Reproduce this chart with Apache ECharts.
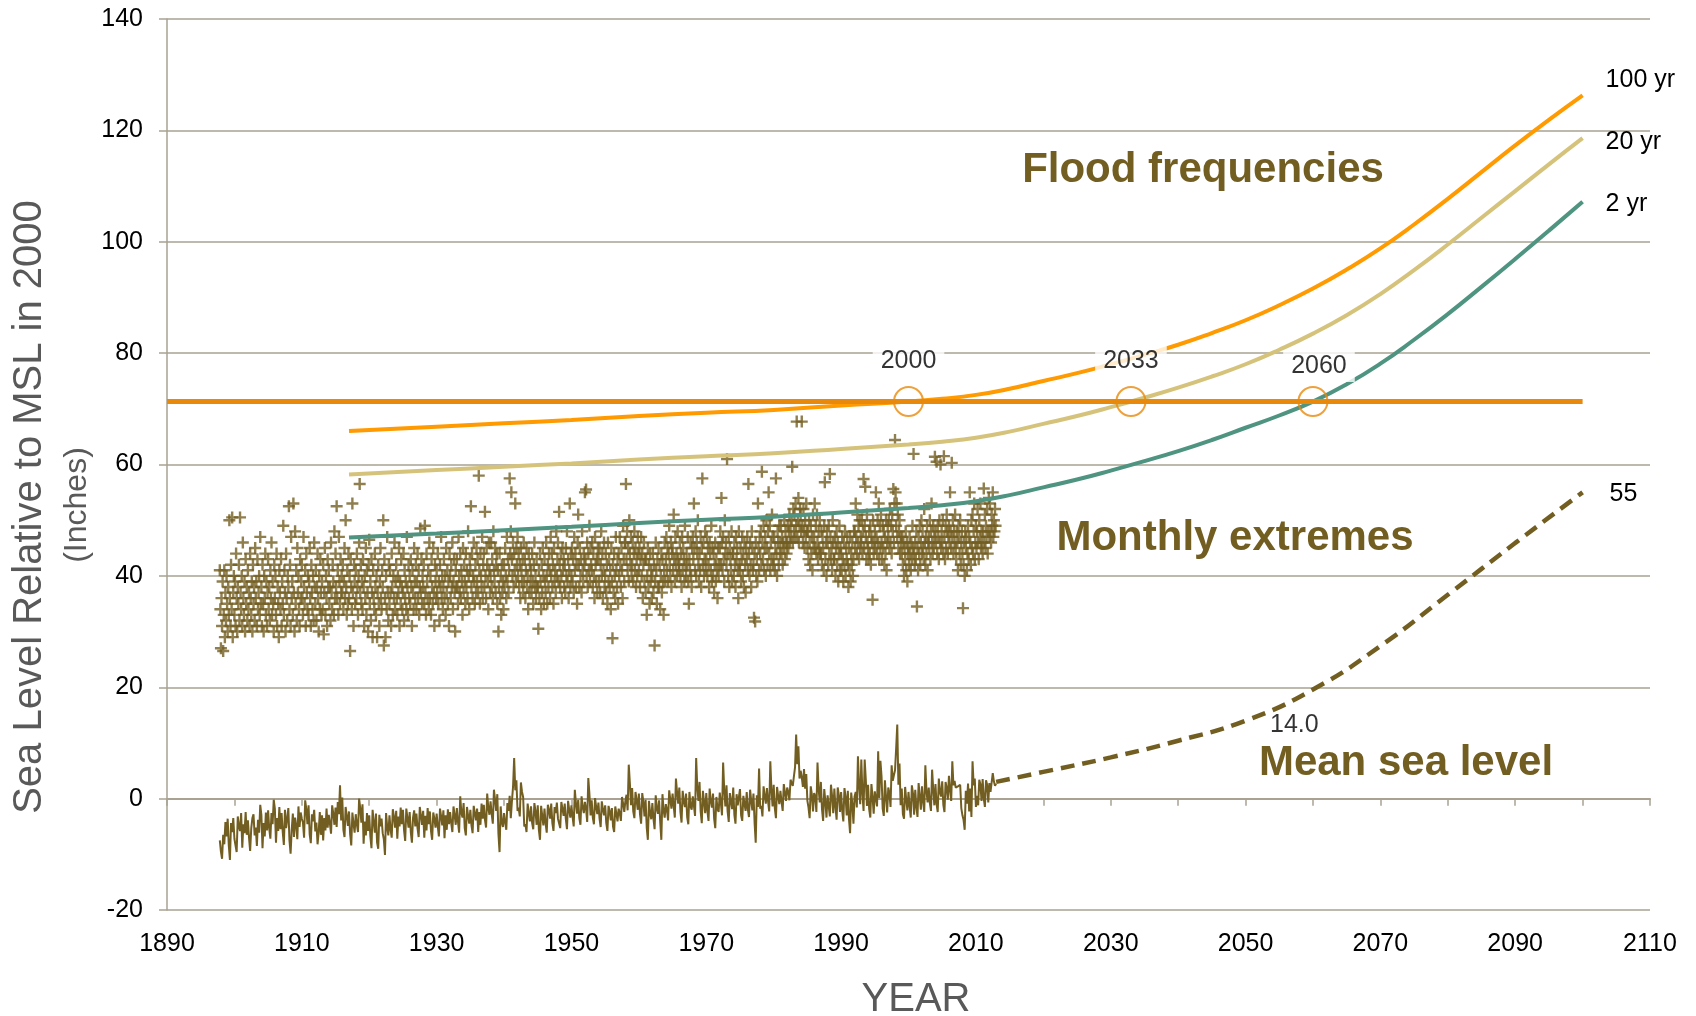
<!DOCTYPE html>
<html>
<head>
<meta charset="utf-8">
<script src="https://cdn.jsdelivr.net/npm/echarts@6/dist/echarts.min.js"></script>
<style>
html,body{margin:0;padding:0;background:#fff;}
#chart{width:1696px;height:1016px;}
</style>
</head>
<body>
<div id="chart"></div>
<script>
// ---------- DATA ----------
const xTickYears = [1890, 1910, 1930, 1950, 1970, 1990, 2010, 2030, 2050, 2070, 2090, 2110];
const yTickValues = [-20, 0, 20, 40, 60, 80, 100, 120, 140];

// Mean sea level (inches), two-month steps, first value Nov 1897
const mslStartYear = 1897 + 10 / 12;
const mslStep = 1 / 6;
const mslValues = [
-7.5,-9.5,
-10.8,-6.5,-8.2,-4.2,-6.8,-3.6,
-8.4,-11.0,-4.4,-6.0,-3.5,-7.2,
-6.9,-9.6,-3.2,-5.0,-5.8,-2.6,
-8.8,-4.6,-6.2,-2.4,-6.5,-3.9,
-7.0,-9.4,-5.3,-3.5,-2.8,-6.6,
-5.2,-8.5,-3.8,-6.1,-1.1,-2.9,
-8.9,-4.4,-6.8,-2.5,-5.7,-2.1,
-5.4,-7.2,-2.6,-4.6,-0.2,-1.8,
-7.9,-3.5,-5.8,-1.5,-5.5,-2.6,
-6.0,-8.3,-2.0,-5.3,-3.6,-1.7,
-7.5,-9.9,-5.6,-2.7,-6.9,-3.4,
-4.9,-7.3,-1.4,-5.1,-2.5,-3.6,
-4.3,-7.0,-0.3,-1.9,-4.6,-1.2,
-6.4,-8.0,-2.8,-4.1,-2.0,-5.9,
-4.3,-8.2,-6.0,-2.4,-6.5,-3.0,
-7.5,-3.5,-5.7,-1.8,-5.2,-2.9,
-4.5,-6.3,-1.2,-2.7,-4.7,-1.6,
-5.1,-0.6,-2.8,2.4,-3.9,0.2,
-5.6,-6.9,-1.5,-3.1,-4.9,-2.3,
-6.4,-8.4,-2.5,-4.5,-6.1,-2.8,
-4.6,-6.0,0.0,-1.7,-4.3,-1.0,
-8.1,-4.1,-6.6,-2.6,-5.8,-3.0,
-6.8,-8.9,-2.0,-4.2,-6.1,-2.7,
-7.9,-9.0,-2.9,-5.0,-3.6,-6.2,
-7.3,-10.1,-2.6,-5.1,-6.6,-3.0,
-5.6,-7.0,-1.9,-3.3,-5.2,-2.2,
-7.2,-3.2,-5.0,-1.6,-4.6,-2.0,
-5.7,-7.6,-1.8,-3.5,-5.2,-2.4,
-6.0,-7.9,-3.4,-2.1,-5.0,-2.7,
-5.3,-6.9,-1.5,-3.0,-4.7,-2.2,
-7.0,-3.1,-5.7,-1.7,-4.6,-2.3,
-5.9,-7.4,-2.5,-3.6,-5.2,-2.7,
-5.0,-6.8,-1.8,-3.2,-4.8,-2.1,
-7.1,-3.0,-5.6,-1.9,-4.6,-2.4,
-4.4,-6.0,-1.4,-2.9,-4.7,-1.7,
-4.2,-6.1,0.4,-2.5,-3.4,-0.8,
-5.3,-6.6,-1.5,-3.1,-4.5,-2.0,
-4.8,-6.2,-1.3,-2.6,-3.9,-1.8,
-6.0,-2.4,-4.7,-0.9,-3.6,-1.1,
-3.8,-5.2,0.9,-1.7,-2.9,-0.5,
-2.8,-4.5,1.6,-0.2,-2.2,0.8,
-6.3,-9.6,-1.4,-4.2,-5.1,-2.6,
-4.3,-5.6,-0.8,-2.2,0.5,-3.5,
-0.5,2.1,7.3,1.5,3.3,-2.2,
-1.6,-3.2,2.9,1.2,0.3,-5.0,
-4.6,-6.0,-0.9,-2.6,-4.1,-1.4,
-4.4,-5.5,-0.8,-2.3,-4.7,-1.2,
-5.6,-7.4,-1.3,-3.1,-4.8,-1.8,
-4.5,-6.1,-1.1,-2.0,-3.6,-0.9,
-4.4,-5.8,-1.5,-2.6,-0.7,-3.6,
-3.9,-5.3,-0.6,-1.8,-3.1,-0.9,
-3.7,-5.5,-0.4,-2.0,-3.4,-1.2,
-3.3,-5.0,1.6,-0.8,-2.7,-0.2,
-3.5,-4.7,0.4,-1.5,-2.6,-0.6,
-1.8,-4.2,3.7,0.8,-3.0,-0.3,
-3.4,-4.6,0.1,-1.5,-2.8,-0.7,
-3.6,-5.1,-0.5,-1.9,-3.0,-1.2,
-4.4,-5.8,-1.3,-2.2,-3.9,-1.7,
-5.0,-6.0,-1.4,-2.7,-4.1,-1.8,
-2.6,-4.0,0.3,-0.9,-2.4,-0.4,
0.7,-2.1,6.1,2.8,-1.2,1.9,
-2.3,-3.5,1.2,-0.3,-2.0,0.9,
-2.8,-4.5,1.0,-0.6,-3.2,-0.2,
-5.2,-7.4,-0.4,-2.6,-3.7,-0.8,
-3.6,-5.5,0.6,-1.8,-2.7,-0.3,
-4.2,-7.4,0.8,-2.0,-3.4,-1.0,
-2.0,-3.9,1.5,-0.2,-1.8,0.9,
-1.3,-3.4,3.6,1.1,-0.9,2.0,
-2.4,-4.3,1.4,-0.5,-1.5,0.9,
-3.3,-4.6,1.2,-1.4,-2.0,0.4,
-1.3,-3.1,7.3,2.1,-0.4,3.0,
-2.3,-4.4,1.4,-0.6,-2.6,1.0,
-2.2,-4.0,1.8,-0.4,-1.6,0.9,
-3.6,-5.3,0.3,-1.9,-2.4,1.1,
-0.8,-3.0,6.5,1.5,-1.4,2.4,
-2.3,-4.2,1.0,-0.5,-1.9,2.0,
-2.9,-4.5,0.8,-1.2,-1.4,1.7,
-3.0,-4.0,0.5,-0.9,-2.2,1.2,
-1.9,-3.3,1.6,-0.4,-2.1,0.9,
-4.3,-7.9,0.6,-1.5,5.4,-1.8,
-1.3,-3.2,2.2,0.5,-0.9,1.9,
-0.5,-2.3,6.7,1.6,-1.4,2.5,
-1.7,-3.5,2.1,0.4,-1.0,1.4,
-0.6,-2.2,2.6,1.1,-0.4,2.0,
1.2,-0.3,3.4,2.8,2.3,4.0,
5.6,11.5,6.2,9.4,3.6,5.0,
3.8,2.1,5.3,1.8,4.4,-0.4,
-1.6,-3.5,2.2,0.7,-2.3,1.0,
0.4,-2.4,6.5,1.8,-0.7,3.0,
-1.9,-4.0,1.7,-0.5,-3.4,0.6,
-1.4,-3.2,2.5,0.4,-2.6,1.8,
-1.5,-3.8,2.0,0.6,-2.4,1.2,
-2.2,-4.1,1.9,0.3,-3.0,1.4,
-3.6,-6.2,1.1,-1.0,-4.5,0.4,
1.2,-1.6,7.6,2.3,-1.0,7.0,
0.9,-2.2,7.0,3.4,-1.3,2.5,
-1.9,-3.4,2.6,0.3,-2.7,1.3,
1.6,-1.4,8.5,0.1,6.8,4.0,
-1.8,-3.1,3.3,0.3,-2.5,2.0,
1.0,-1.5,6.0,3.2,4.2,5.1,
9.0,13.3,2.5,6.3,-1.2,1.8,
-2.8,-3.6,2.1,-0.2,-2.1,1.2,
-1.4,-3.4,2.4,0.9,-2.9,1.6,
-1.5,-3.3,2.8,0.4,-2.0,2.2,
-0.5,-2.4,6.0,1.4,-0.7,2.0,
-0.8,-2.2,5.2,1.7,-1.2,2.6,
-1.0,-2.4,3.6,1.2,0.4,3.1,
-1.1,-2.4,3.0,1.9,-0.2,4.1,
1.5,-0.4,6.7,2.4,3.2,2.0,
2.1,2.2,2.4,2.5,-1.7,-3.0,
-3.8,-5.6,1.4,-0.9,2.7,-2.3,
1.8,-3.3,6.7,2.4,3.6,-1.5,
0.5,-1.2,3.4,2.6,-0.4,3.5,
0.0,-1.5,3.3,2.5,-0.7,2.8,
1.2,0.9,4.6,3.1,2.3,2.7
];

// Monthly extreme water levels (inches), first month Nov 1897
const extremesStartYear = 1897 + 10 / 12;
const extremesStep = 1 / 12;
const extremesMonthly = [
41,34,
27,36,31,39,26.5,33,41,29,37,32,40,35,
30,38,33,50,36,31,42,34,50.5,29,37,40,
33,39,31,44,36,30,38,35,42,32,50.5,37,
34,40,31,46,36,33,39,30,43,35,38,32,
41,34,37,31,44,36,33,39,30,42,35,38,
32,45,36,39,31,43,34,37,40,33,47,35,
38,31,42,35,30,40,36,44,33,39,31,37,
43,34,38,32,41,36,46,33,39,35,30,42,
36,40,33,44,31,38,35,29,41,37,34,43,
31,39,35,49,33,41,37,30,44,36,32,40,
38,52.5,34,42,31,47,36,39,33,53,37,30,
48,35,41,32,45,37,40,34,31,43,36,39,
42,36,33,47,38,35,41,31,44,37,34,40,
33,39,45,36,31,42,37,34,40,32,46,38,
35,41,32,38,44,36,30,40,34,43,37,33,
39,34,42,29.5,37,45,33,40,36,31,43,38,
41,35,38,32,46,37,34,42,39,33,48,36,
44,38,52.5,36,41,33,47,39,35,43,37,40,
37,42,34,39,45,36,50,38,33,41,35,44,
36,40,26.5,43,38,34,53,37,31,42,39,35,
41,36,44,38,33,40,46,56.5,37,42,35,39,
34,43,38,31,40,36,45,33,41,37,30,42,
46.5,35,39,32,43,37,29,41,36,34,44,38,
33,40,29,37,42,35,31,39,45,36,34,41,
38,50,27.5,43,36,29,40,34,47,37,32,42,
35,41,37,31,44,38,33,40,36,46,34,39,
42,36,33,40,37,45,31,39,35,43,38,34,
37,44,32,41,36,39,34,47,38,33,42,36,
40,35,43,38,31,41,37,34,45,39,36,42,
34,39,44,36,41,33,38,48.5,37,43,35,40,
38,42,35,49,37,33,44,39,36,41,34,46,
36,40,33,43,38,35,45,37,31,42,39,36,
41,37,44,35,39,32,42,38,47,36,40,34,
38,43,36,40,33,45,37,41,35,39,31,44,
40,36,42,38,46,34,39,43,37,30,41,38,
43,38,35,47,40,37,44,36,41,39,33,45,
37,42,39,35,44,38,41,36,48,40,34,43,
41,52.5,38,44,36,40,46,39,35,42,37,45,
39,43,37,58,41,35,44,40,38,47,36,42,
44,38,51.5,40,36,45,42,39,34,46,41,37,
40,46,38,43,36,48,41,39,45,37,42,44,
35,41,30,38,44,36,40,33,42,37,39,34,
42,38,45,40,36,47,39,43,37,41,57.5,44,
48,55,43,40,46,38,44,41,53,39,45,42,
47,40,44,38,42,36,45,41,39,43,37,46,
39,43,36,41,45,38,40,34,44,37,42,39,
41,37,44,39,35,42,46,38,40,36,43,38,
38,30.5,41,36,44,39,34,42,37,45,40,35,
43,39,37,46,40,35,42,38,44,41,36,47,
40,44,38,42,35,45,39,41,37,48,40,43,
46,39,51.5,42,38,44,40,36,45,41,43,38,
42,37,45,40,48,39,43,36,41,53,38,44,
40,45,39,43,37,47,41,44,38,42,35,46,
51,42,38,45,40,43,37,48,41,39,44,42,
55,43,55.5,40,46,38,44,41,49,39,45,42,
41,46,38,44,40,36,47,42,39,43,37,45,
43,39,45,37,42,48,40,44,36,41,46,38,
40,44,37,42,35,46,39,43,38,41,34,45,
39,28.8,42,37,44,40,36,47,41,38,43,35,
44,40,47,42,38,45,41,36,49,43,39,46,
46,56.5,43,48,41,45,39,50,44,42,47,40,
42,46,39,44,48,41,45,38,43,40,47,44,
41,45,38,43,47,40,44,36,42,46,39,43,
37,43,33,40,45,38,42,35,44,39,41,36,
40,44,37,42,27.5,39,46,41,35,43,38,45,
38,42,34,40,44,37,43,39,33,41,46,39,
43,47,41,45,39,44,49,42,40,46,38,44,
45,41,51,43,39,47,42,44,40,48,43,41,
42,46,40,44,38,47,41,45,43,39,49,42,
40,44,42,47,39,35,43,41,46,40,38,45,
47,43,53,45,41,48,40,46,44,50,42,39,
44,41,47,38,45,57.5,42,46,40,43,48,41,
43,47,40,45,42,38,46,44,41,49,39,45,
40,44,37,42,46,39,43,41,36,45,40,42,
45,48,42,54,46,41,47,43,39,50,44,46,
42,61,44,40,47,38,45,43,41,48,39,44,
44,40,46,42,38,47,43,45,41,36,48,42,
41,45,39,43,47,40,44,38,46,42,37,45,
43,47,41,56.5,44,40,46,42,38,48,45,41,
42,32.5,44,31.8,46,40,43,39,53,45,41,47,
44,48,42,58.7,46,43,49,41,45,47,40,50,
45,42,48,55,44,49,41,46,43,51,47,42,
43,47,41,45,57.5,44,40,48,46,42,49,44,
46,49,44,47,42,46,45,50,43,48,46,44,
46,49,45,48,51,46,49,47,50,59.6,46,52,
48,51,47,53,49,67.7,47,50,54,46,49,52,
51,48,67.7,49,46,52,48,45,50,47,53,48,
45,48,43,50,46,42,49,44,47,41,51,45,
47,53,45,49,44,51,46,43,48,45,50,44,
44,48,42,47,45,41,49,56.8,43,46,40,48,
46,42,49,44,58.3,47,43,45,41,50,46,43,
43,47,40,45,48,42,46,39,44,49,41,45,
44,41,47,43,39,46,42,48,40,45,43,47,
42,38,45,41,47,39,44,42,46,40,43,48,
48,45,53,47,44,51,46,49,43,50,45,47,
46,50,44,48,57.4,45,49,56,47,43,51,46,
45,43,48,44,49,42,47,46,35.7,50,44,46,
48,45,55,47,44,50,46,53,43,49,45,51,
46,43,49,45,48,42,47,44,50,41,46,49,
47,50,45,52,46,49,44,51,48,55.6,46,53,
64.4,55,49,53,47,51,45,48,50,44,47,46,
44,47,42,46,40,45,43,48,41,46,39,44,
45,42,47,44,41,46,43,49,45,61.9,44,42,
46,43,48,34.5,45,41,47,44,49,42,46,50,
44,48,45,43,52,46,42,47,44,49,41,46,
47,45,50,43,48,53,46,44,49,45,47,61.4,
48,46,60.5,44,49,47,43,50,46,60,45,48,
46,50,44,61.5,47,43,49,45,51,48,44,47,
49,46,55,48,45,60.3,47,50,44,48,46,51,
45,43,48,46,41,49,47,44,50,42,46,48,
44,34.2,42,46,40,48,45,47,41,44,49,43,
47,55,46,42,50,45,51,44,48,53,43,46,
49,45,48,52,46,43,50,47,53,45,48,46,
44,48,55.7,46,51,45,49,47,52,44,48,54,
47,53,48,46,51,49,55,47,50,48,52,49
];

// Projected mean sea level (inches)
const mslProjYears  = [2013, 2020, 2030, 2040, 2050, 2060, 2070, 2080, 2090, 2100];
const mslProjValues = [3.0, 4.8, 7.4, 10.4, 14.0, 19.6, 27.4, 36.6, 45.9, 55.0];

// Flood frequency curves (inches)
const floodYears = [1917, 1930, 1940, 1950, 1960, 1970, 1980, 1990, 2000, 2005, 2010, 2015, 2020, 2025, 2030, 2035, 2040, 2045, 2050, 2055, 2060, 2065, 2070, 2075, 2080, 2085, 2090, 2095, 2100];
const flood2yr   = [46.9, 47.6, 48.2, 48.8, 49.5, 50.1, 50.6, 51.4, 52.2, 52.7, 53.4, 54.5, 55.9, 57.3, 58.9, 60.6, 62.4, 64.4, 66.6, 68.8, 71.3, 74.4, 78.1, 82.4, 87.0, 91.9, 96.9, 102.0, 107.2];
const flood20yr  = [58.2, 59.0, 59.6, 60.2, 60.9, 61.5, 62.0, 62.8, 63.6, 64.1, 64.8, 65.9, 67.3, 68.7, 70.3, 72.0, 73.8, 75.8, 78.0, 80.6, 83.5, 86.8, 90.6, 94.9, 99.5, 104.3, 109.1, 113.9, 118.6];
const flood100yr = [66.0, 66.8, 67.4, 68.0, 68.7, 69.3, 69.8, 70.6, 71.3, 71.8, 72.5, 73.6, 75.0, 76.4, 78.0, 79.7, 81.5, 83.6, 85.9, 88.6, 91.6, 95.0, 98.8, 103.1, 107.7, 112.5, 117.3, 121.9, 126.3];

// Present 100-yr flood level and crossing years
const floodLevel2000 = 71.3;
const levelLineYears = [1890, 2100];
const crossingYears  = [2000, 2033, 2060];

// Labels
const curveLabels = { f100: '100 yr', f20: '20 yr', f2: '2 yr', msl: '55' };
const mslMarkYear = 2050, mslMarkLabel = '14.0';

// ---------- BUILD ----------
const OLIVE = '#735E22';
const GRIDC = '#A9A292';
const FONT = '"Liberation Sans", Arial, sans-serif';

const mslData = mslValues.map((v, i) => [mslStartYear + i * mslStep, v]);
const extData = extremesMonthly.map((v, i) => [extremesStartYear + i * extremesStep, v]);
const projData = mslProjYears.map((y, i) => [y, mslProjValues[i]]);
const pair = (arr) => floodYears.map((y, i) => [y, arr[i]]);

const chart = echarts.init(document.getElementById('chart'), null, { renderer: 'canvas' });

const endLbl = (text, dist, off) => ({
  show: true, formatter: text, distance: dist, offset: off,
  fontSize: 25, color: '#000', fontFamily: FONT
});

const crossOffsets = { 2000: [0, -40], 2033: [0, -40], 2060: [6, -35] };

const option = {
  animation: false,
  backgroundColor: '#fff',
  grid: { left: 167, right: 46, top: 19, bottom: 106, containLabel: false },
  xAxis: {
    type: 'value', min: 1890, max: 2110, interval: 20,
    axisLine: { show: true, lineStyle: { color: GRIDC, width: 2 } },
    axisTick: { show: true, length: 7, lineStyle: { color: GRIDC, width: 1.5 } },
    minorTick: { show: true, splitNumber: 2, length: 7, lineStyle: { color: GRIDC, width: 1.5 } },
    splitLine: { show: false },
    axisLabel: {
      fontSize: 25, color: '#000', fontFamily: FONT, margin: 22,
      formatter: (v) => xTickYears.includes(v) ? String(v) : ''
    }
  },
  yAxis: {
    type: 'value', min: -20, max: 140, interval: 20,
    axisLine: { show: true, lineStyle: { color: GRIDC, width: 1.5 } },
    axisTick: { show: true, length: 8, lineStyle: { color: GRIDC, width: 1.5 } },
    splitLine: { show: true, lineStyle: { color: GRIDC, width: 1.5 } },
    axisLabel: {
      fontSize: 25, color: '#000', fontFamily: FONT, margin: 24,
      formatter: (v) => yTickValues.includes(v) ? String(v) : ''
    }
  },
  series: [
    {
      name: 'Monthly extremes', type: 'scatter', z: 2,
      symbol: 'path://M4.8,0h2.4v4.8h4.8v2.4h-4.8v4.8h-2.4v-4.8h-4.8v-2.4h4.8z', symbolSize: 12,
      itemStyle: { color: OLIVE },
      data: extData, silent: true
    },
    {
      name: 'Mean sea level', type: 'line', z: 3,
      showSymbol: false, symbol: 'none',
      lineStyle: { color: OLIVE, width: 2 },
      data: mslData, silent: true
    },
    {
      name: 'MSL projection', type: 'line', z: 3,
      showSymbol: false, symbol: 'none', smooth: 0.5,
      lineStyle: { color: OLIVE, width: 4.5, type: [14, 8] },
      data: projData,
      endLabel: endLbl(curveLabels.msl, 27, [0, 2])
    },
    {
      name: 'MSL mark', type: 'scatter', z: 4,
      symbol: 'circle', symbolSize: 1, itemStyle: { color: 'rgba(0,0,0,0)' },
      data: [[mslMarkYear, mslProjValues[mslProjYears.indexOf(mslMarkYear)]]],
      label: { show: true, position: 'right', distance: 24, offset: [0, 4], formatter: mslMarkLabel,
               fontSize: 25, color: '#000', fontFamily: FONT }
    },
    {
      name: '2 yr', type: 'line', z: 4, showSymbol: false, symbol: 'none',
      smooth: 0.5,
      lineStyle: { color: '#4E9480', width: 4 },
      data: pair(flood2yr),
      endLabel: endLbl(curveLabels.f2, 23, [0, 2])
    },
    {
      name: '20 yr', type: 'line', z: 4, showSymbol: false, symbol: 'none',
      smooth: 0.5,
      lineStyle: { color: '#D6C37B', width: 4 },
      data: pair(flood20yr),
      endLabel: endLbl(curveLabels.f20, 23, [0, 4])
    },
    {
      name: '100 yr', type: 'line', z: 4, showSymbol: false, symbol: 'none',
      smooth: 0.5,
      lineStyle: { color: '#FF9A00', width: 4 },
      data: pair(flood100yr),
      endLabel: endLbl(curveLabels.f100, 23, [0, -15])
    },
    {
      name: '100-yr level 2000', type: 'line', z: 5, showSymbol: false, symbol: 'none',
      lineStyle: { color: '#E8890C', width: 5 },
      data: levelLineYears.map((y) => [y, floodLevel2000])
    },
    {
      name: 'Crossings', type: 'scatter', z: 6,
      symbol: 'circle', symbolSize: 29,
      itemStyle: { color: 'rgba(0,0,0,0)', borderColor: '#E8890C', borderWidth: 2 },
      data: crossingYears.map((y) => ({
        value: [y, floodLevel2000],
        label: { offset: crossOffsets[y] }
      })),
      label: {
        show: true, position: 'inside',
        formatter: (p) => String(p.value[0]),
        fontSize: 25, color: '#000', fontFamily: FONT,
        backgroundColor: '#fff', padding: [3, 8]
      }
    }
  ],
  graphic: [
    { type: 'text', x: 30, y: 507, rotation: Math.PI / 2, z: 10,
      style: { text: 'Sea Level Relative to MSL in 2000', font: '40px ' + FONT, fill: '#595959',
               textAlign: 'center', textVerticalAlign: 'middle' } },
    { type: 'text', x: 77, y: 505, rotation: Math.PI / 2, z: 10,
      style: { text: '(Inches)', font: '32px ' + FONT, fill: '#595959',
               textAlign: 'center', textVerticalAlign: 'middle' } },
    { type: 'text', x: 916, y: 1000, z: 10,
      style: { text: 'YEAR', font: '40px ' + FONT, fill: '#595959',
               textAlign: 'center', textVerticalAlign: 'middle' } },
    { type: 'text', x: 1203, y: 170, z: 10,
      style: { text: 'Flood frequencies', font: 'bold 42px ' + FONT, fill: OLIVE,
               textAlign: 'center', textVerticalAlign: 'middle' } },
    { type: 'text', x: 1235, y: 538, z: 10,
      style: { text: 'Monthly extremes', font: 'bold 42px ' + FONT, fill: OLIVE,
               textAlign: 'center', textVerticalAlign: 'middle' } },
    { type: 'text', x: 1406, y: 763, z: 10,
      style: { text: 'Mean sea level', font: 'bold 42px ' + FONT, fill: OLIVE,
               textAlign: 'center', textVerticalAlign: 'middle' } }
  ]
};
chart.setOption(option);
</script>
</body>
</html>
